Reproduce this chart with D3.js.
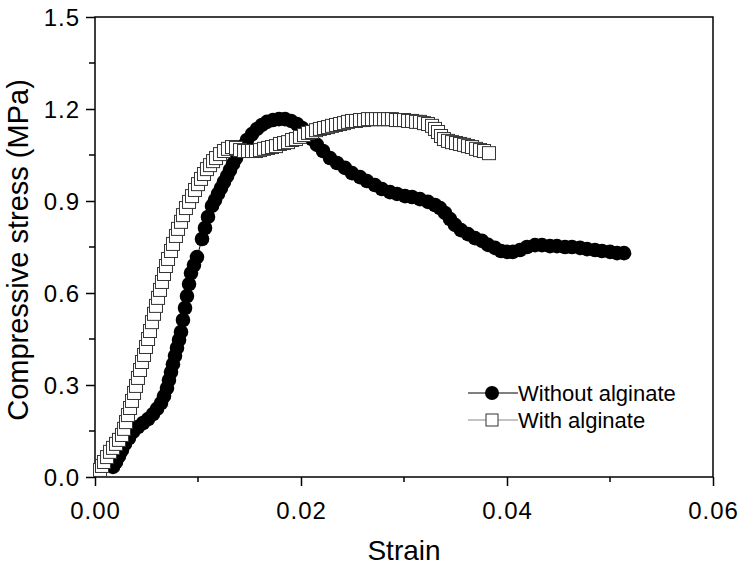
<!DOCTYPE html>
<html>
<head>
    <meta charset="UTF-8">
    <script src="https://cdn.jsdelivr.net/npm/d3@7"></script>
    <style>
        body { margin: 0; background: #fff; }
        text { font-family: "Liberation Sans", Arial, sans-serif; fill: #000; }
    </style>
</head>
<body>
<svg id="chart" width="742" height="565"></svg>
<script>

// 数据 (strain, stress MPa) —— 从图上读出
const strain_without = [0.00175,0.00204,0.00233,0.00262,0.00291,0.00330,0.00369,0.00417,0.00466,0.00515,0.00563,0.00602,0.00641,0.00670,0.00699,0.00718,0.00738,0.00757,0.00777,0.00796,0.00816,0.00835,0.00854,0.00874,0.00893,0.00913,0.00932,0.00961,0.00990,
    0.01039,0.01068,0.01097,0.01136,0.01165,0.01194,0.01223,0.01252,0.01282,0.01311,0.01340,0.01369,0.01398,0.01437,0.01476,0.01524,0.01573,0.01621,0.01670,0.01728,0.01786,0.01845,0.01903,0.01961,
    0.02010,0.02058,0.02107,0.02155,0.02214,0.02282,0.02350,0.02427,0.02495,0.02573,0.02641,0.02718,0.02786,0.02864,0.02932,0.03010,0.03078,0.03155,0.03233,0.03301,0.03350,0.03398,0.03447,0.03495,
    0.03553,0.03621,0.03689,0.03757,0.03816,0.03883,0.03942,0.04000,0.04058,0.04126,0.04194,0.04272,0.04340,0.04417,0.04485,0.04563,0.04631,0.04709,0.04777,0.04854,0.04922,0.05000,0.05068,0.05136];
const stress_without = [0.033,0.049,0.068,0.088,0.108,0.127,0.147,0.163,0.176,0.189,0.205,0.222,0.241,0.264,0.290,0.316,0.342,0.368,0.395,0.421,0.447,0.473,0.512,0.551,0.590,0.629,0.665,0.691,0.717,
    0.776,0.812,0.848,0.884,0.903,0.923,0.942,0.962,0.981,1.001,1.021,1.040,1.060,1.079,1.099,1.118,1.135,1.148,1.158,1.164,1.167,1.167,1.161,1.151,
    1.138,1.122,1.102,1.083,1.063,1.040,1.024,1.008,0.991,0.978,0.965,0.952,0.939,0.929,0.923,0.916,0.913,0.906,0.897,0.887,0.877,0.861,0.841,0.822,
    0.805,0.792,0.779,0.770,0.757,0.747,0.737,0.734,0.734,0.740,0.750,0.756,0.756,0.753,0.753,0.750,0.750,0.747,0.743,0.740,0.737,0.734,0.730,0.730];

const strain_with = [0.00049,0.00068,0.00087,0.00117,0.00146,0.00175,0.00204,0.00233,0.00262,0.00282,0.00301,0.00320,0.00340,0.00359,0.00379,0.00398,0.00417,0.00437,0.00456,0.00476,0.00495,
    0.00515,0.00534,0.00553,0.00573,0.00592,0.00612,0.00631,0.00650,0.00670,0.00689,0.00709,0.00738,0.00757,0.00786,0.00806,0.00835,0.00854,0.00883,0.00913,0.00942,0.00971,
    0.01000,0.01029,0.01058,0.01087,0.01117,0.01146,0.01175,0.01214,0.01252,0.01291,0.01330,0.01369,0.01408,0.01447,0.01485,0.01524,0.01563,0.01602,0.01641,0.01680,0.01718,0.01757,0.01796,0.01835,0.01874,0.01913,0.01951,
    0.01990,0.02029,0.02068,0.02107,0.02146,0.02184,0.02223,0.02262,0.02301,0.02340,0.02379,0.02417,0.02456,0.02495,0.02534,0.02573,0.02612,0.02650,0.02689,0.02728,0.02767,0.02806,0.02845,0.02883,0.02922,0.02961,
    0.03000,0.03039,0.03078,0.03117,0.03155,0.03194,0.03233,0.03272,0.03301,0.03330,0.03359,0.03388,0.03427,0.03466,0.03505,0.03544,0.03583,0.03621,0.03660,0.03699,0.03738,0.03777,0.03825];
const stress_with = [0.023,0.036,0.049,0.065,0.082,0.095,0.108,0.121,0.137,0.157,0.179,0.202,0.225,0.248,0.274,0.297,0.323,0.349,0.375,0.398,0.424,
    0.450,0.476,0.505,0.532,0.558,0.584,0.610,0.636,0.662,0.688,0.711,0.737,0.760,0.786,0.809,0.832,0.854,0.877,0.897,0.916,0.936,
    0.955,0.972,0.988,1.004,1.017,1.030,1.040,1.053,1.063,1.070,1.076,1.073,1.066,1.063,1.063,1.063,1.063,1.066,1.070,1.073,1.076,1.079,1.086,1.089,1.092,1.099,1.102,
    1.109,1.115,1.122,1.125,1.131,1.135,1.138,1.141,1.145,1.148,1.151,1.154,1.158,1.161,1.161,1.164,1.164,1.167,1.167,1.167,1.167,1.167,1.167,1.167,1.164,1.164,
    1.164,1.161,1.161,1.158,1.158,1.154,1.151,1.145,1.135,1.125,1.112,1.102,1.096,1.092,1.089,1.086,1.083,1.079,1.076,1.070,1.066,1.063,1.056];

// 坐标轴
const x_domain = [0, 0.06];
const y_domain = [0, 1.5];
const x_ticks = [0, 0.02, 0.04, 0.06];
const x_minor = [0.01, 0.03, 0.05];
const y_ticks = [0, 0.3, 0.6, 0.9, 1.2, 1.5];
const y_minor = [0.15, 0.45, 0.75, 1.05, 1.35];
const series_names = ["Without alginate", "With alginate"];

//=====================================  =====================================//
//                                  画布                                     //
//=====================================  =====================================//
const m_left = 95, m_right = 713, m_top = 17, m_bottom = 477;
const svg = d3.select("#chart");

const x = d3.scaleLinear(x_domain, [m_left, m_right]);
const y = d3.scaleLinear(y_domain, [m_bottom, m_top]);

const font_tick = "24px";

// x 轴
const gx = svg.append("g").attr("transform", `translate(0,${m_bottom})`);
gx.call(d3.axisBottom(x).tickValues(x_ticks).tickSize(9).tickPadding(10)
        .tickFormat(d3.format(".2f")));
gx.append("g").selectAll("line").data(x_minor).join("line")
    .attr("x1", d => x(d)).attr("x2", d => x(d))
    .attr("y1", 0).attr("y2", 5).attr("stroke", "#000").attr("stroke-width", 1.5);

// y 轴
const gy = svg.append("g").attr("transform", `translate(${m_left},0)`);
gy.call(d3.axisLeft(y).tickValues(y_ticks).tickSize(9).tickPadding(6)
        .tickFormat(d3.format(".1f")));
gy.append("g").selectAll("line").data(y_minor).join("line")
    .attr("y1", d => y(d)).attr("y2", d => y(d))
    .attr("x1", 0).attr("x2", -6).attr("stroke", "#000").attr("stroke-width", 1.5);

[gx, gy].forEach(g => {
    g.select(".domain").remove();
    g.selectAll(".tick line").attr("stroke-width", 1.5);
    g.selectAll(".tick text").style("font-family", '"Liberation Sans", Arial, sans-serif')
        .style("font-size", font_tick).attr("letter-spacing", "1px").attr("fill", "#000");
});
gx.selectAll(".tick text").attr("dy", "0.95em");
gy.selectAll(".tick text").attr("dy", "0.36em");

// 边框
svg.append("rect")
    .attr("x", m_left).attr("y", m_top)
    .attr("width", m_right - m_left).attr("height", m_bottom - m_top)
    .attr("fill", "none").attr("stroke", "#000").attr("stroke-width", 1.5);

// 轴标题
svg.append("text")
    .attr("x", (m_left + m_right) / 2).attr("y", 560)
    .attr("text-anchor", "middle").style("font-size", "28px")
    .text("Strain");
svg.append("text")
    .attr("transform", `translate(28,250) rotate(-90)`)
    .attr("text-anchor", "middle").style("font-size", "29px")
    .text("Compressive stress (MPa)");

//=====================================  =====================================//
//                                  数据                                     //
//=====================================  =====================================//
const data_without = strain_without.map((s, i) => [s, stress_without[i]]);
const data_with = strain_with.map((s, i) => [s, stress_with[i]]);
const line = d3.line().x(d => x(d[0])).y(d => y(d[1]));

const plot = svg.append("g");

plot.append("path").datum(data_without).attr("d", line)
    .attr("fill", "none").attr("stroke", "#000").attr("stroke-width", 1);
plot.append("g").selectAll("circle").data(data_without).join("circle")
    .attr("cx", d => x(d[0])).attr("cy", d => y(d[1])).attr("r", 7.3)
    .attr("fill", "#000");

const sq = 13;
plot.append("path").datum(data_with).attr("d", line)
    .attr("fill", "none").attr("stroke", "#888").attr("stroke-width", 1);
plot.append("g").selectAll("rect").data(data_with).join("rect")
    .attr("x", d => x(d[0]) - sq / 2).attr("y", d => y(d[1]) - sq / 2)
    .attr("width", sq).attr("height", sq)
    .attr("fill", "#fff").attr("stroke", "#333").attr("stroke-width", 1);

//=====================================  =====================================//
//                                  图例                                     //
//=====================================  =====================================//
const legend = svg.append("g").attr("transform", "translate(468,393)");
series_names.forEach((name, i) => {
    const ly = i * 27;
    const col = i == 0 ? "#000" : "#888";
    legend.append("line").attr("x1", 0).attr("x2", 50).attr("y1", ly).attr("y2", ly)
        .attr("stroke", col).attr("stroke-width", 1);
    if (i == 0) {
        legend.append("circle").attr("cx", 24).attr("cy", ly).attr("r", 7).attr("fill", "#000");
    } else {
        legend.append("rect").attr("x", 18).attr("y", ly - 6).attr("width", 12).attr("height", 12)
            .attr("fill", "#fff").attr("stroke", "#333").attr("stroke-width", 1);
    }
    legend.append("text").attr("x", 50).attr("y", ly + 7.5)
        .style("font-size", "22px").text(name);
});

</script>
</body>
</html>
